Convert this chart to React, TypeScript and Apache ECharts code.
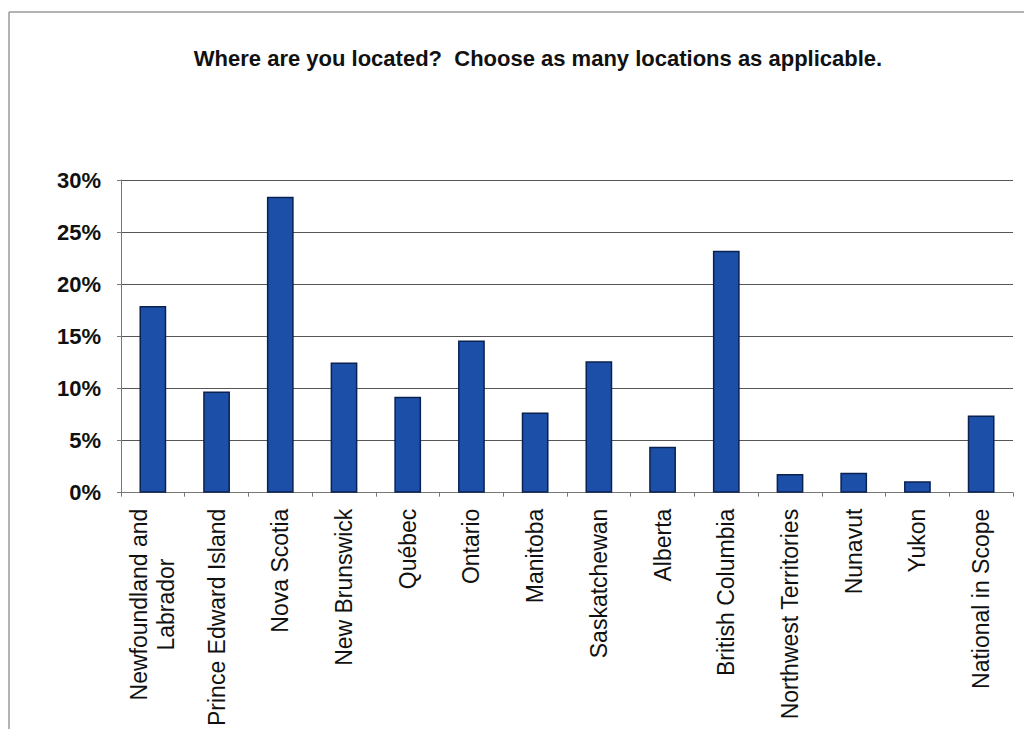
import React, { useEffect, useRef } from "react";
import * as echarts from "echarts";

const titleText = "Where are you located?  Choose as many locations as applicable.";
const categories = [
  "Newfoundland and\nLabrador",
  "Prince Edward Island",
  "Nova Scotia",
  "New Brunswick",
  "Québec",
  "Ontario",
  "Manitoba",
  "Saskatchewan",
  "Alberta",
  "British Columbia",
  "Northwest Territories",
  "Nunavut",
  "Yukon",
  "National in Scope",
];
const values = [17.9, 9.7, 28.4, 12.5, 9.2, 14.6, 7.7, 12.6, 4.4, 23.2, 1.8, 1.9, 1.1, 7.4];
const yTicks = [0, 5, 10, 15, 20, 25, 30];

export default function App() {
  const ref = useRef<HTMLDivElement>(null);
  useEffect(() => {
    if (!ref.current) return;
    const chart = echarts.init(ref.current, null, { renderer: "svg" });
    const font = "'Liberation Sans', Arial, sans-serif";
    chart.setOption({
      animation: false,
      backgroundColor: "#ffffff",
      title: {
        text: titleText,
        left: 533,
        textAlign: "center",
        top: 42,
        textStyle: { fontFamily: font, fontWeight: "bold", fontSize: 22, color: "#111" },
      },
      graphic: [
        { type: "line", shape: { x1: 9, y1: 12, x2: 1024, y2: 12 }, style: { stroke: "#9a9a9a", lineWidth: 1.5 } },
        { type: "line", shape: { x1: 9, y1: 12, x2: 9, y2: 729 }, style: { stroke: "#9a9a9a", lineWidth: 1.5 } },
      ],
      grid: { left: 121, right: 13, top: 180, bottom: 235 },
      xAxis: {
        type: "category",
        data: categories,
        axisLine: { show: true, lineStyle: { color: "#777", width: 1 } },
        axisTick: { show: true, alignWithLabel: false, length: 4, lineStyle: { color: "#777" } },
        axisLabel: {
          interval: 0,
          rotate: 90,
          margin: 16,
          fontFamily: font,
          fontSize: 23,
          color: "#111",
          lineHeight: 27,
          formatter: (v: string) => v.split("\n").map((s) => `{c|${s}}`).join("\n"),
          rich: { c: { align: "center", fontFamily: font, fontSize: 23, color: "#111", lineHeight: 27 } },
        },
      },
      yAxis: {
        type: "value",
        min: yTicks[0],
        max: yTicks[yTicks.length - 1],
        interval: 5,
        axisLine: { show: true, lineStyle: { color: "#777", width: 1 } },
        axisTick: { show: true, length: 4, lineStyle: { color: "#777" } },
        splitLine: { show: true, lineStyle: { color: "#555", width: 1 } },
        axisLabel: {
          margin: 20,
          fontFamily: font,
          fontWeight: "bold",
          fontSize: 22,
          color: "#111",
          formatter: (v: number) => `${v}%`,
        },
      },
      series: [
        {
          type: "bar",
          data: values,
          barCategoryGap: "58%",
          itemStyle: { color: "#1c50a8", borderColor: "#0b2150", borderWidth: 1.5 },
        },
      ],
    });
    return () => chart.dispose();
  }, []);
  return <div ref={ref} style={{ width: 1026, height: 729, position: "absolute", left: 0, top: 0 }} />;
}
